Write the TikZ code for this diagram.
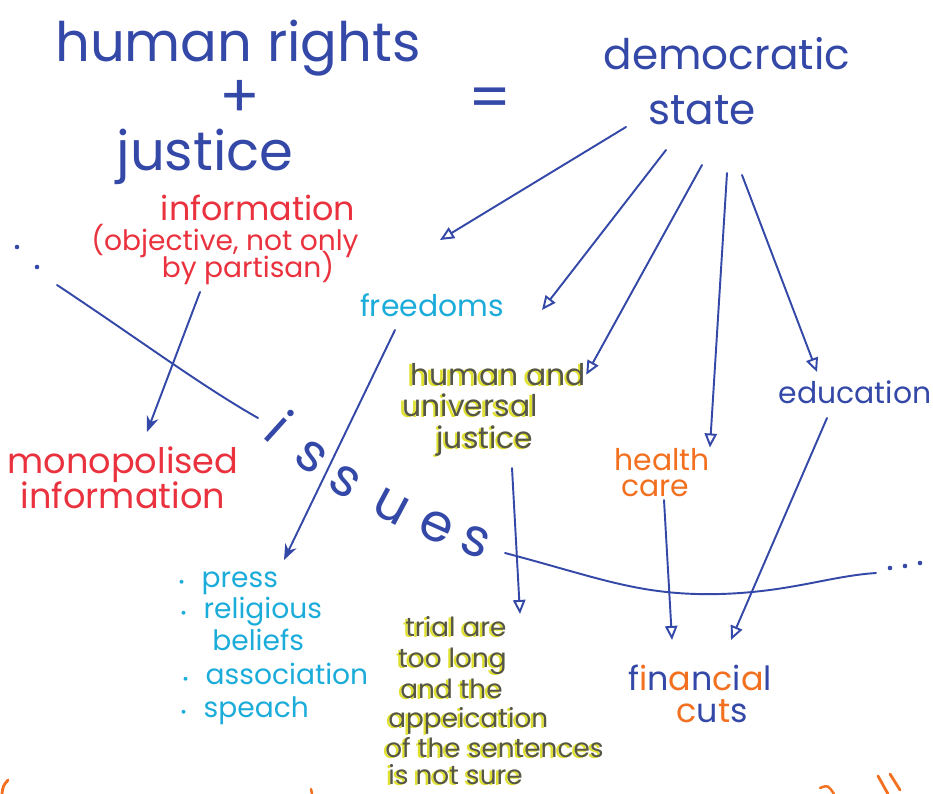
\documentclass[tikz,border=0pt]{standalone}
\usepackage{fontspec}
\setmainfont{Poppins}
\usetikzlibrary{arrows.meta,positioning}

\definecolor{ink}{RGB}{52,72,168}
\definecolor{redpen}{RGB}{234,50,62}
\definecolor{cyanpen}{RGB}{28,172,218}
\definecolor{olivepen}{RGB}{86,86,70}
\definecolor{yellowpen}{RGB}{224,224,46}
\definecolor{orangepen}{RGB}{242,112,32}

\newcommand{\bl}[1]{{\color{ink}#1}}
\newcommand{\og}[1]{{\color{orangepen}#1}}
\newcommand{\hilite}[1]{\leavevmode\rlap{\kern-1.4pt\raisebox{-0.8pt}{\color{yellowpen}#1}}{\color{olivepen}#1}}

\begin{document}
\begin{tikzpicture}[x=0.02cm,y=-0.02cm,
	pen/.style={draw=ink, line width=1.1pt, line cap=round},
	arr/.style={pen, -{Triangle[open,length=8pt,width=7pt]}},
	farr/.style={pen, -{Stealth[length=9pt,width=7pt]}},
	word/.style={inner sep=0pt, anchor=base},
	fs/.style={font=\fontsize{#1}{#1}\selectfont}]
\useasboundingbox (0,0) rectangle (933,794);

% title
\node [word, text=ink, fs=31pt] (hr) at (238,62) {human rights};
\node [text=ink, fs=34pt, inner sep=0pt] (plus) at (240,99) {+};
\node [word, text=ink, fs=31pt] (js) at (205,171) {justice};
\node [text=ink, fs=34pt, inner sep=0pt] (eq) at (490,103) {=};
\node [word, text=ink, fs=24pt] (dem) at (727,70) {democratic};
\node [word, text=ink, fs=24pt] (state) at (702,125) {state};

% information
\node [word, text=redpen, fs=19pt] (info) at (258,220) {information};
\node [word, text=redpen, fs=16pt] (obj) at (225,250) {(objective, not only};
\node [word, text=redpen, fs=16pt] (part) at (248,277) {by partisan)};
\node [word, text=redpen, fs=20pt] (mono) at (123,473) {monopolised};
\node [word, text=redpen, fs=20pt] (minfo) at (123,508) {information};

% branches
\node [word, text=cyanpen, fs=17pt] (free) at (432,316) {freedoms};
\node [word, fs=17pt] (hu) at (498,385) {\hilite{human and}};
\node [word, fs=17pt] (un) at (470,416) {\hilite{universal}};
\node [word, fs=17pt] (ju) at (485,448) {\hilite{justice}};
\node [word, text=ink, fs=17pt] (edu) at (855,403) {education};
\node [word, text=orangepen, fs=17pt] (hea) at (662,470) {health};
\node [word, text=orangepen, fs=17pt] (care) at (655,496) {care};

% freedoms list
\node [word, anchor=base west, text=cyanpen, fs=16pt] (p1) at (178,587) {{\fontsize{9pt}{9pt}\selectfont•}\,\, press};
\node [word, anchor=base west, text=cyanpen, fs=16pt] (p2) at (180,618) {{\fontsize{9pt}{9pt}\selectfont•}\,\, religious};
\node [word, anchor=base west, text=cyanpen, fs=16pt] (p3) at (212,650) {beliefs};
\node [word, anchor=base west, text=cyanpen, fs=16pt] (p4) at (182,684) {{\fontsize{9pt}{9pt}\selectfont•}\,\, association};
\node [word, anchor=base west, text=cyanpen, fs=16pt] (p5) at (180,717) {{\fontsize{9pt}{9pt}\selectfont•}\,\, speach};

% justice issues
\node [word, anchor=base west, fs=15pt] (t1) at (405,636) {\hilite{trial are}};
\node [word, anchor=base west, fs=15pt] (t2) at (398,667) {\hilite{too long}};
\node [word, anchor=base west, fs=15pt] (t3) at (400,698) {\hilite{and the}};
\node [word, anchor=base west, fs=15pt] (t4) at (388,727) {\hilite{appeication}};
\node [word, anchor=base west, fs=15pt] (t5) at (385,757) {\hilite{of the sentences}};
\node [word, anchor=base west, fs=15pt] (t6) at (388,784) {\hilite{is not sure}};

% financial cuts
\node [word, fs=19pt] (fin) at (700,690) {\bl{f}\og{i}\bl{n}\og{a}\bl{n}\og{c}\bl{i}\og{a}\bl{l}};
\node [word, fs=19pt] (cuts) at (712,722) {\og{c}\bl{u}\og{t}\bl{s}};

% issues line
\draw [pen] (57,285) .. controls (140,340) and (200,385) .. (258,418);
\foreach \ch/\px/\py/\rot [count=\n] in {i/280/426/-42, s/311/457/-36, s/345/482/-32, u/391/507/-28, e/436/527/-24, s/475/542/-20}
	\node [text=ink, fs=30pt, inner sep=0pt, rotate=\rot] (iss\n) at (\px,\py) {\ch};
\draw [pen] (505,553) .. controls (600,578) and (640,596) .. (720,594) .. controls (790,592) and (830,576) .. (876,573);
\foreach \px/\py in {890/568, 905/566, 920/563, 17/247, 37/267}
	\fill [ink] (\px,\py) circle (1.3pt);

% arrows from the state
\coordinate (s1) at (626,127);
\coordinate (s2) at (666,150);
\coordinate (s3) at (702,165);
\coordinate (s4) at (727,173);
\coordinate (s5) at (742,175);
\coordinate (e1) at (440,240);
\coordinate (e2) at (542,310);
\draw [arr] (s1) -- (e1);
\draw [arr] (s2) -- (e2);
\draw [arr] (s3) -- (hu.east);
\draw [arr] (s4) -- (hea.north east);
\draw [arr] (s5) -- (817,372);

% lower arrows
\draw [farr] (200,292) -- (147,432);
\draw [farr] (395,330) -- (284,560);
\draw [arr] (512,468) -- (520,614);
\draw [arr] (664,500) -- (672,640);
\draw [arr] (827,418) -- (731,640);

% cut-off orange writing at the bottom
\draw [orangepen, line width=1.6pt, line cap=round] (878,776) -- (888,794) (890,774) -- (900,790);
\draw [orangepen, line width=1.6pt, line cap=round] (8,780) .. controls (3,786) .. (2,794);
\draw [orangepen, line width=1.4pt, line cap=round] (311,789) -- (312,794) (820,788) .. controls (828,785) .. (834,794);
\end{tikzpicture}
\end{document}
